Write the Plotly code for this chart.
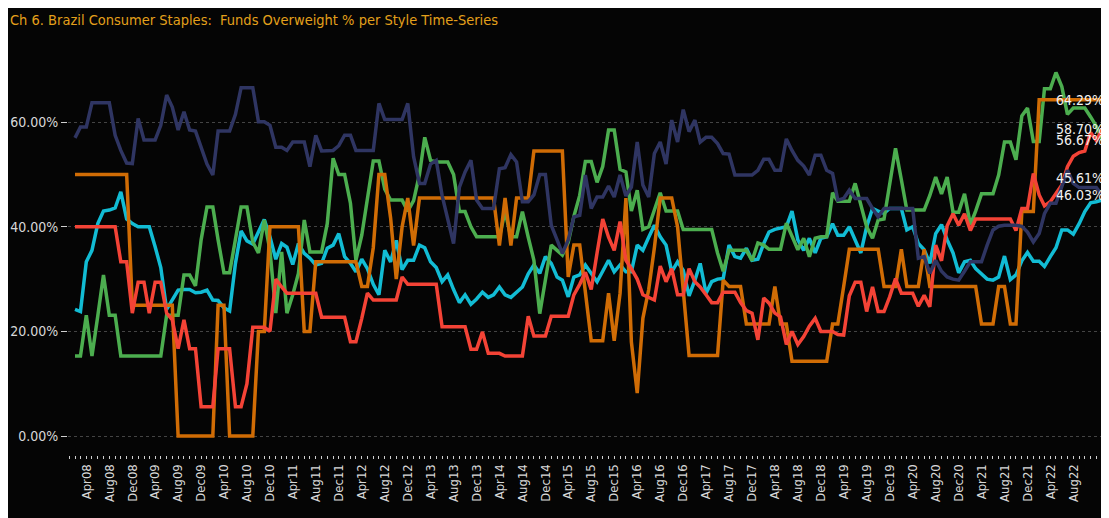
import pandas as pd
import plotly.graph_objects as go

# monthly observations, Feb 2008 .. Feb 2023
months = pd.date_range("2008-02-01", periods=181, freq="MS")

tick_labels = ["Apr08", "Aug08", "Dec08", "Apr09", "Aug09", "Dec09", "Apr10", "Aug10", "Dec10",
               "Apr11", "Aug11", "Dec11", "Apr12", "Aug12", "Dec12", "Apr13", "Aug13", "Dec13",
               "Apr14", "Aug14", "Dec14", "Apr15", "Aug15", "Dec15", "Apr16", "Aug16", "Dec16",
               "Apr17", "Aug17", "Dec17", "Apr18", "Aug18", "Dec18", "Apr19", "Aug19", "Dec19",
               "Apr20", "Aug20", "Dec20", "Apr21", "Aug21", "Dec21", "Apr22", "Aug22"]

y_tick_vals = [0, 20, 40, 60]
y_tick_text = ["0.00%", "20.00%", "40.00%", "60.00%"]

navy = [57.0, 59.1, 59.1, 63.7, 63.7, 63.7, 63.7, 57.5, 54.6, 52.2,
        52.1, 60.7, 56.6, 56.6, 56.6, 59.4, 65.2, 62.9, 58.5, 62.0,
        58.5, 58.3, 55.3, 52.0, 49.9, 58.3, 58.3, 58.3, 61.5, 66.6,
        66.6, 66.6, 60.1, 60.1, 59.4, 55.2, 55.2, 54.6, 56.2, 56.2,
        56.2, 51.5, 57.5, 54.5, 54.5, 54.6, 55.5, 57.5, 57.5, 54.6,
        54.6, 54.6, 54.6, 63.6, 60.5, 60.5, 60.5, 60.5, 63.6, 53.4,
        48.3, 48.3, 52.0, 52.7, 46.0, 41.3, 36.8, 47.6, 50.5, 52.7,
        45.1, 43.5, 43.5, 43.5, 51.1, 51.3, 53.8, 52.4, 44.8, 44.8,
        46.1, 50.0, 50.0, 40.3, 37.5, 34.9, 37.5, 41.9, 42.2, 49.9,
        43.5, 45.7, 45.7, 47.8, 45.7, 49.9, 45.9, 47.6, 56.2, 48.0,
        45.7, 54.0, 56.2, 52.0, 60.4, 56.2, 62.4, 58.2, 60.4, 56.2,
        57.1, 57.1, 55.9, 54.0, 53.9, 49.9, 49.9, 49.9, 49.9, 50.8,
        52.9, 52.9, 50.8, 50.8, 56.8, 54.6, 52.7, 51.6, 49.9, 53.7,
        53.7, 50.8, 50.2, 45.1, 45.4, 47.0, 45.4, 45.4, 45.4, 43.5,
        41.9, 43.5, 43.5, 43.5, 43.5, 43.5, 43.5, 34.0, 34.3, 31.1,
        33.6, 31.5, 30.4, 30.0, 29.8, 31.5, 33.3, 33.3, 33.3, 36.5,
        39.4, 40.1, 40.3, 40.3, 40.3, 40.1, 39.0, 37.1, 38.7, 42.5,
        44.5, 44.5, 47.5, 50.8, 48.3, 47.5, 47.5, 47.5, 47.5, 46.1, 46.03]

orange = [50.0, 50.0, 50.0, 50.0, 50.0, 50.0, 50.0, 50.0, 50.0, 50.0,
          25.0, 25.0, 25.0, 25.0, 25.0, 25.0, 25.0, 25.0, 0.0, 0.0,
          0.0, 0.0, 0.0, 0.0, 0.0, 25.0, 25.0, 0.0, 0.0, 0.0,
          0.0, 0.0, 20.0, 20.0, 40.0, 40.0, 40.0, 40.0, 40.0, 40.0,
          20.0, 20.0, 33.3, 33.3, 33.3, 33.3, 33.3, 33.3, 33.3, 33.3,
          28.6, 28.6, 36.0, 50.0, 50.0, 41.7, 30.0, 40.0, 45.5, 36.4,
          45.5, 45.5, 45.5, 45.5, 45.5, 45.5, 45.5, 45.5, 45.5, 45.5,
          45.5, 45.5, 45.5, 45.5, 36.4, 45.5, 36.4, 45.5, 45.5, 45.5,
          54.5, 54.5, 54.5, 54.5, 54.5, 54.5, 30.4, 36.5, 36.5, 28.0,
          18.2, 18.2, 18.2, 27.3, 18.2, 27.3, 45.5, 18.0, 8.2, 22.5,
          28.0, 36.0, 45.5, 45.5, 45.5, 40.0, 27.3, 15.4, 15.4, 15.4,
          15.4, 15.4, 15.4, 29.8, 28.6, 28.6, 28.6, 21.4, 21.4, 21.4,
          21.4, 21.4, 28.6, 21.4, 21.4, 14.3, 14.3, 14.3, 14.3, 14.3,
          14.3, 14.3, 21.4, 21.4, 28.6, 35.7, 35.7, 35.7, 35.7, 35.7,
          35.7, 28.6, 28.6, 28.6, 35.7, 28.6, 28.6, 28.6, 35.7, 28.6,
          28.6, 28.6, 28.6, 28.6, 28.6, 28.6, 28.6, 28.6, 21.4, 21.4,
          21.4, 28.6, 28.6, 21.4, 21.4, 42.9, 42.9, 42.9, 64.29, 64.29,
          64.29, 64.29, 64.29, 64.29, 64.29, 64.29, 64.29, 64.29, 64.29, 64.29, 64.29]

red = [40.0, 40.0, 40.0, 40.0, 40.0, 40.0, 40.0, 40.0, 33.3, 33.3,
       23.5, 29.4, 29.4, 23.5, 29.4, 29.4, 23.5, 22.2, 16.7, 22.2,
       16.7, 16.7, 5.6, 5.6, 5.6, 16.7, 16.7, 16.7, 5.6, 5.6,
       10.0, 20.8, 20.8, 20.8, 20.0, 30.0, 28.5, 27.3, 27.3, 27.3,
       27.3, 27.3, 27.3, 22.7, 22.7, 22.7, 22.7, 22.7, 18.0, 18.0,
       22.5, 27.3, 26.0, 26.0, 26.0, 26.0, 26.0, 30.4, 29.0, 29.0,
       29.0, 29.0, 29.0, 29.0, 20.9, 20.9, 20.9, 20.9, 20.9, 16.6,
       16.6, 19.9, 15.8, 15.8, 15.8, 15.3, 15.3, 15.3, 15.3, 22.9,
       19.1, 19.1, 19.1, 22.9, 22.9, 22.9, 22.9, 27.0, 29.0, 31.3,
       28.0, 35.0, 41.5, 38.0, 35.5, 41.0, 33.6, 32.0, 30.0, 27.0,
       26.5, 26.0, 32.5, 29.5, 32.0, 27.0, 27.0, 32.0, 29.5, 28.5,
       27.0, 25.5, 25.5, 27.5, 27.5, 27.5, 25.5, 24.0, 23.5, 18.4,
       26.4, 25.4, 23.5, 22.8, 17.5, 20.0, 17.5, 19.0, 21.0, 22.5,
       20.0, 20.0, 20.0, 19.4, 19.3, 26.8, 29.4, 29.4, 23.8, 28.5,
       23.8, 23.8, 26.6, 30.1, 27.3, 27.3, 27.3, 24.8, 26.9, 24.7,
       36.5, 33.5, 40.2, 42.5, 40.3, 42.5, 39.3, 41.5, 41.5, 41.5,
       41.5, 41.5, 41.5, 41.5, 39.3, 43.5, 43.5, 50.2, 46.1, 44.0,
       44.8, 46.5, 48.0, 51.5, 53.5, 54.2, 54.5, 58.0, 56.5, 58.7, 58.70]

green = [15.3, 15.3, 23.1, 15.3, 23.0, 30.8, 23.1, 23.1, 15.3, 15.3,
         15.3, 15.3, 15.3, 15.3, 15.3, 15.3, 23.1, 23.1, 23.1, 30.8,
         30.8, 28.7, 37.5, 43.8, 43.8, 37.5, 31.2, 31.2, 37.5, 43.8,
         43.8, 37.1, 35.0, 41.3, 35.5, 23.5, 35.2, 23.5, 27.0, 31.1,
         41.3, 35.2, 35.2, 35.2, 40.6, 53.1, 50.0, 50.0, 44.5, 33.6,
         38.4, 45.0, 52.6, 52.6, 47.2, 45.1, 45.1, 45.1, 43.0, 45.0,
         50.0, 57.1, 52.7, 52.4, 52.4, 52.4, 50.0, 42.9, 42.9, 40.0,
         38.1, 38.1, 38.1, 38.1, 38.1, 42.9, 38.1, 38.1, 42.9, 38.0,
         33.6, 23.4, 30.0, 36.5, 35.5, 34.6, 37.0, 42.0, 46.0, 52.5,
         52.5, 48.5, 51.5, 58.5, 58.5, 51.0, 50.5, 43.0, 47.0, 39.5,
         40.0, 43.0, 46.5, 43.0, 43.0, 43.0, 39.5, 39.5, 39.5, 39.5,
         39.5, 39.5, 35.0, 31.5, 35.5, 35.5, 35.5, 35.5, 33.5, 36.9,
         36.5, 35.7, 35.7, 35.7, 40.7, 38.2, 35.6, 37.8, 34.3, 37.8,
         38.1, 38.1, 46.5, 44.9, 44.9, 44.9, 48.3, 44.0, 40.0, 37.8,
         41.3, 41.5, 48.0, 55.0, 49.0, 43.2, 43.2, 43.2, 43.2, 46.0,
         49.5, 46.3, 49.5, 42.8, 42.8, 46.3, 40.4, 43.0, 46.3, 46.3,
         46.3, 49.9, 56.2, 56.2, 52.8, 61.2, 62.7, 56.3, 56.3, 66.4,
         66.4, 69.5, 66.8, 61.5, 62.7, 62.7, 62.7, 61.0, 59.2, 56.6, 56.67]

cyan = [24.2, 23.8, 33.3, 35.5, 40.6, 43.0, 43.2, 43.6, 46.7, 41.5,
        40.6, 40.0, 40.0, 40.0, 36.2, 32.2, 24.2, 26.0, 27.9, 28.0,
        28.0, 27.4, 27.5, 27.9, 26.0, 25.9, 24.5, 23.9, 33.0, 39.2,
        37.3, 36.7, 39.0, 41.4, 38.1, 33.8, 36.8, 36.1, 32.8, 36.8,
        34.9, 34.0, 32.7, 33.0, 35.9, 36.5, 38.7, 34.3, 33.0, 31.4,
        33.8, 32.0, 29.0, 27.0, 35.5, 33.3, 37.4, 31.8, 33.6, 33.6,
        36.5, 36.0, 33.3, 32.2, 29.5, 30.8, 28.0, 25.5, 27.0, 25.2,
        26.2, 27.5, 26.5, 27.0, 28.5, 27.0, 26.5, 27.6, 28.5, 31.0,
        32.7, 31.1, 34.3, 33.0, 30.4, 29.8, 26.6, 30.4, 30.8, 32.7,
        31.1, 29.5, 31.5, 33.6, 31.4, 32.7, 31.4, 31.4, 36.5, 35.5,
        38.0, 40.3, 38.1, 36.5, 31.4, 33.3, 31.7, 26.8, 29.8, 33.0,
        27.3, 29.5, 30.0, 30.1, 36.5, 34.3, 34.0, 35.9, 33.6, 33.8,
        36.8, 39.0, 39.5, 39.8, 40.0, 43.0, 37.5, 35.5, 37.8, 35.0,
        37.8, 38.1, 40.6, 38.4, 38.4, 40.0, 37.5, 35.0, 40.0, 43.5,
        43.0, 42.6, 43.5, 43.5, 43.5, 39.4, 40.0, 36.8, 35.6, 33.0,
        38.7, 40.4, 37.5, 35.0, 31.2, 33.3, 33.6, 32.0, 31.0, 30.0,
        29.8, 30.4, 34.4, 29.9, 30.8, 33.5, 35.1, 33.4, 33.4, 32.4,
        34.3, 36.0, 39.4, 39.4, 38.6, 40.6, 42.9, 44.6, 44.8, 45.1, 45.61]

series = [("Cyan", cyan, "#12bcd4"),
          ("Green", green, "#4cae4f"),
          ("Orange", orange, "#d06c05"),
          ("Red", red, "#f44336"),
          ("Navy", navy, "#2f3562")]
label_shift = {"Cyan": 19}

FONT = "DejaVu Sans Condensed, DejaVu Sans, sans-serif"
BG = "#050505"

# the page body keeps its default 8px margin, so the figure is 8px smaller
# than the window and every pixel position below is page position - 8
OFF = 8
W, H = 1109 - OFF, 518 - OFF

fig = go.Figure()
for name, vals, color in series:
    fig.add_trace(go.Scatter(x=months, y=vals, mode="lines", name=name,
                             line=dict(color=color, width=3.5)))
    fig.add_trace(go.Scatter(x=[months[-1]], y=[vals[-1]], mode="markers",
                             marker=dict(color=color, size=9), cliponaxis=False,
                             showlegend=False, hoverinfo="skip"))

for name, vals, color in series:
    fig.add_annotation(x=months[-1], y=vals[-1], text=f"{vals[-1]:.2f}%",
                       showarrow=False, xanchor="right", yanchor="middle",
                       xshift=-2, yshift=label_shift.get(name, 0),
                       font=dict(family=FONT, size=14, color="#f2f2f2"))

# map first / last month onto the pixel columns of the reference
L, X0, X1 = 68 - OFF, 75 - OFF, 1108 - OFF
px_day = (X1 - X0) / (months[-1] - months[0]).days
x_lo = months[0] - pd.Timedelta(days=(X0 - L) / px_day)
x_hi = months[-1] + pd.Timedelta(days=(W - X1) / px_day)

tick_vals = [pd.to_datetime(t, format="%b%y") for t in tick_labels]

fig.update_layout(
    width=W, height=H, autosize=False,
    margin=dict(l=L, r=0, t=50 - OFF, b=63),
    paper_bgcolor=BG, plot_bgcolor=BG,
    showlegend=False,
    title=dict(text="Ch 6. Brazil Consumer Staples:  Funds Overweight % per Style Time-Series",
               x=(10 - OFF) / W, xanchor="left", xref="container",
               y=1 - (20 - OFF) / H, yanchor="middle", yref="container",
               font=dict(family=FONT, size=14.5, color="#e3a01b")),
    xaxis=dict(type="date", range=[x_lo, x_hi], tickmode="array",
               tickvals=tick_vals, ticktext=tick_labels, tickangle=-90,
               ticks="outside", ticklen=3, tickwidth=1, tickcolor="#d0d0d0",
               minor=dict(dtick="M1", tick0="2008-02-01", ticks="outside",
                          ticklen=3, tickwidth=1, tickcolor="#d0d0d0"),
               showgrid=False, zeroline=False, showline=False,
               tickfont=dict(family=FONT, size=13, color="#d8d8d8")),
    yaxis=dict(range=[-3.63, 73.8], tickmode="array",
               tickvals=y_tick_vals, ticktext=y_tick_text,
               ticks="outside", ticklen=6, tickwidth=1, tickcolor="#d0d0d0",
               showgrid=True, gridcolor="#444444", griddash="dot", gridwidth=1,
               zeroline=False, showline=False,
               tickfont=dict(family=FONT, size=14, color="#d8d8d8")),
)

fig.write_html("out.html")
